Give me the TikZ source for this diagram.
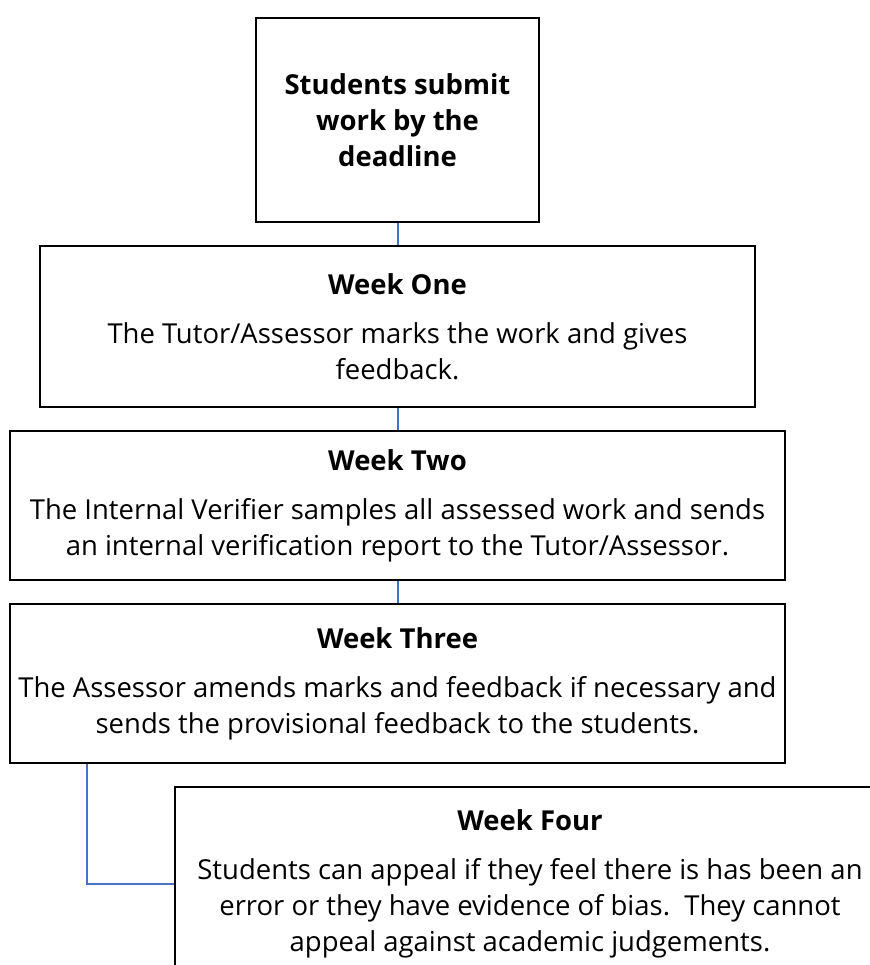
\documentclass[tikz,border=0pt]{standalone}
\usepackage{fontspec}
\setmainfont{Open Sans}
\usetikzlibrary{calc}
\tikzset{
	stagebox/.style={draw=black, line width=1.5pt, align=center, inner sep=0pt,
		font=\fontsize{20.6}{27}\selectfont},
	link/.style={draw=linkblue, line width=1.5pt}
}
\definecolor{linkblue}{HTML}{4472C4}
\begin{document}
\begin{tikzpicture}[x=0.75pt, y=-0.75pt]
		\useasboundingbox (0, 0) rectangle (870, 965);
		\clip (0, 0) rectangle (870, 965);
		\node[stagebox, minimum width=212.25pt, minimum height=153pt] (submit) at (397.5, 120)
			{\bfseries Students submit\\\bfseries work by the\\\bfseries deadline};
		\node[stagebox, minimum width=536.25pt, minimum height=120.75pt] (weekone) at (397.5, 326.5)
			{\bfseries Week One\\[9.75pt]The Tutor/Assessor marks the work and gives\\feedback.};
		\node[stagebox, minimum width=581.25pt, minimum height=111.75pt] (weektwo) at (397.5, 505.5)
			{\bfseries Week Two\\[9.75pt]The Internal Verifier samples all assessed work and sends\\an internal verification report to the Tutor/Assessor.};
		\node[stagebox, minimum width=581.25pt, minimum height=119.25pt] (weekthree) at (397.5, 683.5)
			{\bfseries Week Three\\[9.75pt]The Assessor amends marks and feedback if necessary and\\sends the provisional feedback to the students.};
		\node[stagebox, minimum width=532.5pt, minimum height=145.5pt] (weekfour) at (530, 884)
			{\bfseries Week Four\\[9.75pt]Students can appeal if they feel there is has been an\\error or they have evidence of bias.\ \ They cannot\\appeal against academic judgements.};

		\draw[link] (submit) -- (weekone);
		\draw[link] (weekone) -- (weektwo);
		\draw[link] (weektwo) -- (weekthree);
		\coordinate (tap) at ($(weekthree.south west)!0.1!(weekthree.south east)$);
		\draw[link] (tap) |- (weekfour.west);
	\end{tikzpicture}
\end{document}
